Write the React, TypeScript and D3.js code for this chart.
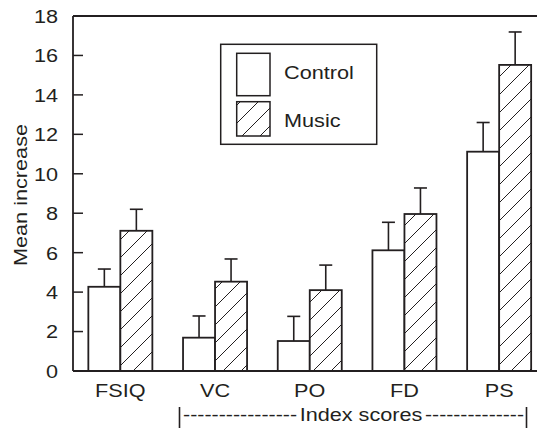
import React from "react";
import * as d3 from "d3";

const categories = ["FSIQ", "VC", "PO", "FD", "PS"];
const seriesNames = ["Control", "Music"];
const controlValues = [4.27, 1.69, 1.52, 6.12, 11.12];
const controlErrors = [0.9, 1.1, 1.25, 1.42, 1.48];
const musicValues = [7.11, 4.53, 4.1, 7.96, 15.52];
const musicErrors = [1.09, 1.15, 1.27, 1.32, 1.67];
const yTicks = [0, 2, 4, 6, 8, 10, 12, 14, 16, 18];
const groupLabel = "Index scores";

const W = 537;
const H = 429;
const INK = "#231f20";
const FONT = "'Liberation Sans', Arial, Helvetica, sans-serif";
const SX = 1.14;

function T(props: {
  x: number;
  y: number;
  anchor?: "start" | "middle" | "end";
  size?: number;
  rotate?: number;
  dy?: string;
  textLength?: number;
  children: React.ReactNode;
}) {
  const { x, y, anchor = "start", size = 19, rotate = 0, dy, textLength, children } = props;
  return (
    <text
      transform={`translate(${x},${y}) rotate(${rotate}) scale(${SX},1)`}
      textAnchor={anchor}
      dy={dy}
      fontFamily={FONT}
      fontSize={size}
      fill={INK}
      textLength={textLength}
      lengthAdjust={textLength ? "spacing" : undefined}
    >
      {children}
    </text>
  );
}

export default function App() {
  const left = 73;
  const top = 16;
  const bottom = 371;
  const y = d3.scaleLinear().domain([0, 18]).range([bottom, top]);
  const x = d3
    .scaleBand<string>()
    .domain(categories)
    .range([left, 546.5])
    .paddingInner(0.324)
    .paddingOuter(0.162);
  const sub = d3.scaleBand<string>().domain(seriesNames).range([0, x.bandwidth()]);

  const series = [
    { name: "Control", values: controlValues, errors: controlErrors, fill: "white" },
    { name: "Music", values: musicValues, errors: musicErrors, fill: "url(#hatch)" },
  ];

  return (
    <svg width={W} height={H} style={{ position: "absolute", left: 0, top: 0, background: "white" }}>
      <defs>
        <pattern id="hatch" patternUnits="userSpaceOnUse" width={18} height={18}>
          <rect width={18} height={18} fill="white" />
          <path
            d="M-4.5,4.5 L4.5,-4.5 M0,18 L18,0 M13.5,22.5 L22.5,13.5"
            stroke={INK}
            strokeWidth={1}
          />
        </pattern>
      </defs>
      <rect width={W} height={H} fill="white" />

      {series.map((s) =>
        categories.map((c, i) => {
          const bx = (x(c) ?? 0) + (sub(s.name) ?? 0);
          const bw = sub.bandwidth();
          const by = y(s.values[i]);
          const cx = bx + bw / 2;
          const ey = y(s.values[i] + s.errors[i]);
          return (
            <g key={s.name + c}>
              <line x1={cx} x2={cx} y1={by} y2={ey} stroke={INK} strokeWidth={1.6} />
              <line x1={cx - 6.5} x2={cx + 6.5} y1={ey} y2={ey} stroke={INK} strokeWidth={1.6} />
              <rect
                x={bx}
                y={by}
                width={bw}
                height={bottom - by}
                fill={s.fill}
                stroke={INK}
                strokeWidth={1.8}
              />
            </g>
          );
        })
      )}

      <line x1={left} x2={W} y1={top} y2={top} stroke={INK} strokeWidth={1.8} />
      <line x1={left} x2={W} y1={bottom} y2={bottom} stroke={INK} strokeWidth={1.8} />
      <line x1={left} x2={left} y1={top} y2={bottom} stroke={INK} strokeWidth={1.8} />

      {yTicks.map((t) => (
        <g key={t}>
          <line x1={left} x2={left + 10} y1={y(t)} y2={y(t)} stroke={INK} strokeWidth={1.5} />
          <T x={58} y={y(t)} dy="0.36em" anchor="end">
            {t}
          </T>
        </g>
      ))}

      <T x={27} y={195} rotate={-90} anchor="middle">
        Mean increase
      </T>

      {categories.map((c) => (
        <T key={c} x={(x(c) ?? 0) + x.bandwidth() / 2} y={396.5} anchor="middle">
          {c}
        </T>
      ))}

      {/* index scores bracket */}
      <line x1={179.5} x2={179.5} y1={407} y2={428} stroke={INK} strokeWidth={1.6} />
      <line x1={526.5} x2={526.5} y1={407} y2={428} stroke={INK} strokeWidth={1.6} />
      <text x={183} y={421} textLength={114} lengthAdjust="spacingAndGlyphs" fontFamily={FONT} fontSize={19} fill={INK}>
        ----------------
      </text>
      <T x={361} y={421} anchor="middle">
        {groupLabel}
      </T>
      <text x={425} y={421} textLength={99} lengthAdjust="spacingAndGlyphs" fontFamily={FONT} fontSize={19} fill={INK}>
        --------------
      </text>

      <rect x={220.7} y={44.3} width={156} height={100} fill="white" stroke={INK} strokeWidth={1.5} />
      <rect x={236.7} y={53.3} width={33.3} height={42.4} fill="white" stroke={INK} strokeWidth={1.5} />
      <rect x={236.7} y={101.7} width={33.3} height={34.3} fill="url(#hatch)" stroke={INK} strokeWidth={1.5} />
      <T x={284} y={79}>
        {seriesNames[0]}
      </T>
      <T x={284} y={127}>
        {seriesNames[1]}
      </T>
    </svg>
  );
}
